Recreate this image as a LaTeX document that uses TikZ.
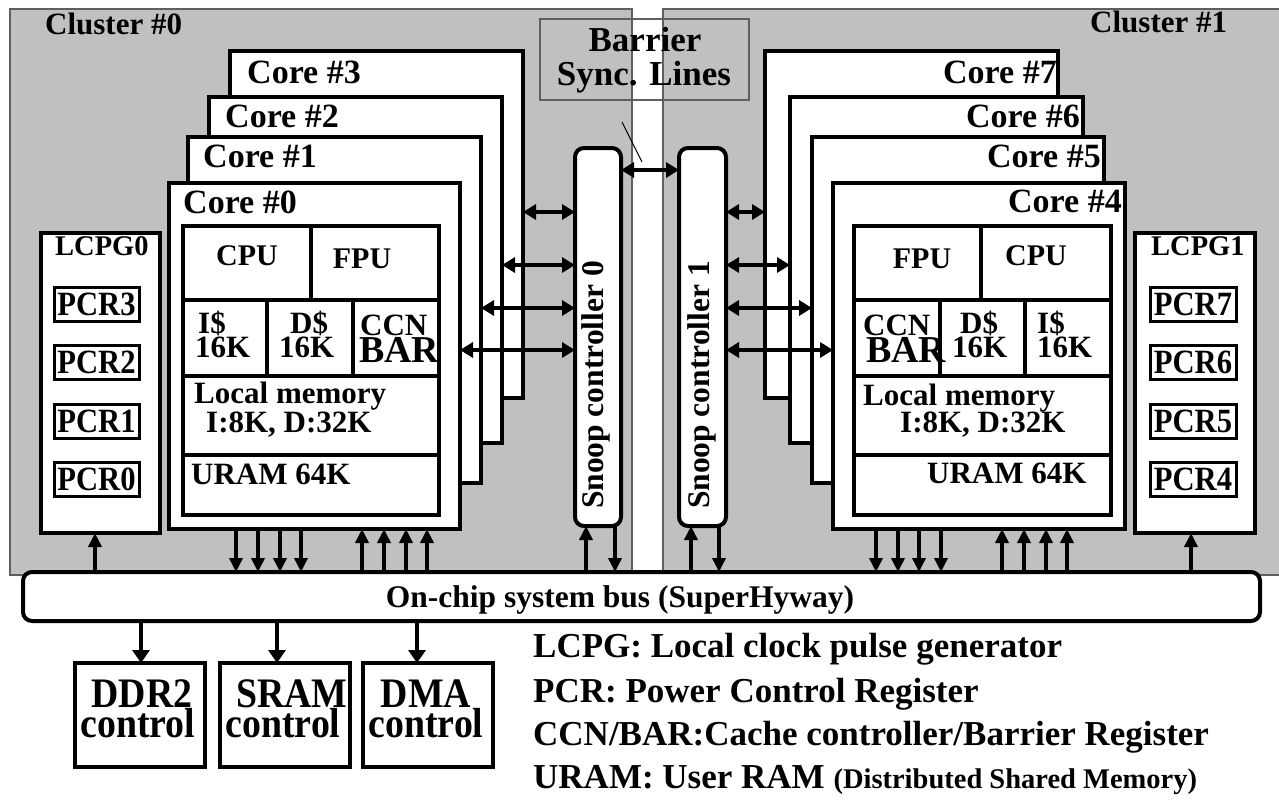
\documentclass[tikz,border=0pt]{standalone}
\usepackage{fontspec}
\setmainfont{Liberation Serif}
\newfontfamily\condserif[FakeStretch=0.9]{Liberation Serif}
\usetikzlibrary{arrows.meta}
\definecolor{clustergray}{RGB}{192,192,192}
\definecolor{rimgray}{RGB}{95,95,95}
\newcommand\setfs[1]{\fontsize{#1}{#1}\selectfont}
% rectangular block from its top-left (x1,y1) to its bottom-right (x2,y2)
\newcommand\blk[6][]{\node[#1, minimum width={(#5-#3)*1pt}, minimum height={(#6-#4)*1pt}] (#2) at (#3,#4) {};}
\tikzset{
  box/.style={draw, fill=white, anchor=north west, inner sep=0pt, outer sep=0pt},
  cluster/.style={box, fill=clustergray, draw=rimgray, line width=1.2pt},
  corebox/.style={box, line width=4.5pt},
  cell/.style={box, line width=3.2pt},
  lcpgbox/.style={box, line width=4pt},
  pcrbox/.style={box, line width=3pt},
  snoopbox/.style={box, line width=4pt, rounded corners=9pt},
  busbox/.style={box, line width=4pt, rounded corners=9pt},
  ctlbox/.style={box, line width=4pt},
  syncbox/.style={draw=rimgray, line width=1.2pt, anchor=north west, inner sep=0pt, outer sep=0pt},
  txt/.style={inner sep=0pt, anchor=base west, font=\bfseries\setfs{#1}},
  ctxt/.style={inner sep=0pt, anchor=base, font=\bfseries\setfs{#1}},
  rtxt/.style={inner sep=0pt, anchor=base east, font=\bfseries\setfs{#1}},
  cctxt/.style={inner sep=0pt, anchor=base, font=\condserif\bfseries\setfs{#1}},
  busarr/.style={line width=3.5pt, -{Triangle[length=14pt,width=13pt]}},
  outarr/.style={line width=3.5pt, -{Triangle[length=13pt,width=17pt]}},
  dblarr/.style={line width=3.5pt, {Triangle[length=13pt,width=15pt]}-{Triangle[length=13pt,width=15pt]}},
  tick/.style={line width=1pt, draw=black},
}
\begin{document}
\begin{tikzpicture}[x=1pt, y=-1pt]
\useasboundingbox (0,0) rectangle (1279,800);
\clip (0,0) rectangle (1279,800);

% ---- the two clusters and the barrier sync lines ----
\blk[cluster]{cluster0}{10}{9}{632}{575}
\blk[cluster]{cluster1}{663}{9}{1292}{575}
\blk[syncbox]{syncbox}{540}{19}{749}{100}
\node[ctxt=35] (synclbl1) at (645,52) {Barrier};
\node[ctxt=35] (synclbl2) at (644,85) {Sync. Lines};
\node[txt=31] (cl0lbl) at (45,35) {Cluster \#0};
\node[txt=31] (cl1lbl) at (1090,33) {Cluster \#1};

% ---- snoop controllers ----
\blk[snoopbox]{snoop0}{575}{148}{621}{526}
\blk[snoopbox]{snoop1}{679}{148}{726}{526}
\node[ctxt=31.5, rotate=90] (sn0lbl) at (603,385) {Snoop controller 0};
\node[ctxt=31.5, rotate=90] (sn1lbl) at (709,385) {Snoop controller 1};

% ---- cluster 0 cores, back to front ----
\blk[corebox]{core3}{230}{51}{523}{398}
\node[txt=34] (c3lbl) at (247,83) {Core \#3};
\blk[corebox]{core2}{209}{97}{502}{443}
\node[txt=34] (c2lbl) at (225,127) {Core \#2};
\blk[corebox]{core1}{188}{137}{481}{483}
\node[txt=34] (c1lbl) at (203,167) {Core \#1};
\blk[corebox]{core0}{169}{183}{460}{529}
\node[txt=34] (c0lbl) at (183,213) {Core \#0};

\blk[cell]{cpu0}{183}{226}{311}{300}
\blk[cell]{fpu0}{311}{226}{439}{300}
\blk[cell]{ic0}{183}{300}{267}{376}
\blk[cell]{dc0}{267}{300}{353}{376}
\blk[cell]{ccn0}{353}{300}{439}{376}
\blk[cell]{lm0}{183}{376}{439}{455}
\blk[cell]{uram0}{183}{455}{439}{515}
\node[ctxt=30] (cpu0lbl) at (247,265) {CPU};
\node[ctxt=30] (fpu0lbl) at (362,268) {FPU};
\node[txt=31] (ic0a) at (198,333) {I\$};
\node[txt=31] (ic0b) at (195,357) {16K};
\node[txt=31] (dc0a) at (290,333) {D\$};
\node[txt=31] (dc0b) at (279,357) {16K};
\node[txt=31] (ccn0a) at (360,335) {CCN};
\node[txt=38] (ccn0b) at (359,362) {BAR};
\node[txt=31] (lm0a) at (194,403) {Local memory};
\node[txt=31] (lm0b) at (206,432) {I:8K, D:32K};
\node[txt=31] (uram0lbl) at (191,484) {URAM 64K};

% ---- cluster 1 cores, back to front ----
\blk[corebox]{core7}{765}{51}{1058}{398}
\node[rtxt=34] (c7lbl) at (1057,83) {Core \#7};
\blk[corebox]{core6}{790}{97}{1083}{443}
\node[rtxt=34] (c6lbl) at (1080,127) {Core \#6};
\blk[corebox]{core5}{812}{137}{1104}{483}
\node[rtxt=34] (c5lbl) at (1101,167) {Core \#5};
\blk[corebox]{core4}{833}{183}{1125}{529}
\node[rtxt=34] (c4lbl) at (1122,212) {Core \#4};

\blk[cell]{fpu4}{854}{226}{981}{300}
\blk[cell]{cpu4}{981}{226}{1111}{300}
\blk[cell]{ccn4}{854}{300}{940}{376}
\blk[cell]{dc4}{940}{300}{1025}{376}
\blk[cell]{ic4}{1025}{300}{1111}{376}
\blk[cell]{lm4}{854}{376}{1111}{455}
\blk[cell]{uram4}{854}{455}{1111}{515}
\node[ctxt=30] (fpu4lbl) at (922,268) {FPU};
\node[ctxt=30] (cpu4lbl) at (1036,265) {CPU};
\node[txt=31] (ccn4a) at (863,335) {CCN};
\node[txt=38] (ccn4b) at (866,362) {BAR};
\node[txt=31] (dc4a) at (960,333) {D\$};
\node[txt=31] (dc4b) at (952,357) {16K};
\node[txt=31] (ic4a) at (1037,333) {I\$};
\node[txt=31] (ic4b) at (1037,357) {16K};
\node[txt=31] (lm4a) at (863,405) {Local memory};
\node[txt=31] (lm4b) at (900,432) {I:8K, D:32K};
\node[txt=31] (uram4lbl) at (927,483) {URAM 64K};

% ---- local clock pulse generators ----
\blk[lcpgbox]{lcpg0}{41}{233}{160}{533}
\node[txt=28.5] (lcpg0lbl) at (55,255) {LCPG0};
\blk[pcrbox]{pcr3}{54}{287}{139}{321}
\blk[pcrbox]{pcr2}{54}{345}{139}{379}
\blk[pcrbox]{pcr1}{54}{404}{139}{438}
\blk[pcrbox]{pcr0}{54}{462}{139}{496}
\foreach \p in {0,1,2,3}
  \node[cctxt=34] (pcr\p lbl) at ([yshift=6pt]pcr\p.south) {PCR\p};

\blk[lcpgbox]{lcpg1}{1135}{233}{1255}{533}
\node[txt=28.5] (lcpg1lbl) at (1151,255) {LCPG1};
\blk[pcrbox]{pcr7}{1150}{287}{1236}{321}
\blk[pcrbox]{pcr6}{1150}{345}{1236}{379}
\blk[pcrbox]{pcr5}{1150}{404}{1236}{438}
\blk[pcrbox]{pcr4}{1150}{462}{1236}{496}
\foreach \p in {4,5,6,7}
  \node[cctxt=34] (pcr\p lbl) at ([yshift=6pt]pcr\p.south) {PCR\p};

% ---- on-chip bus and external controllers ----
\blk[busbox]{bus}{23}{572}{1260}{621}
\node[ctxt=31.5] (buslbl) at (620,607) {On-chip system bus (SuperHyway)};

\blk[ctlbox]{ddr}{75}{663}{205}{767}
\blk[ctlbox]{sram}{220}{663}{350}{767}
\blk[ctlbox]{dma}{363}{663}{493}{767}
\node[cctxt=42] (ddra) at (142,707) {DDR2};
\node[cctxt=42] (ddrb) at (138,737) {control};
\node[cctxt=42] (srama) at (292,707) {SRAM};
\node[cctxt=42] (sramb) at (283,737) {control};
\node[cctxt=42] (dmaa) at (426,707) {DMA};
\node[cctxt=42] (dmab) at (426,737) {control};

\draw[outarr] (bus.south -| 141,0) -- (ddr.north -| 141,0);
\draw[outarr] (bus.south -| 277,0) -- (sram.north -| 277,0);
\draw[outarr] (bus.south -| 417,0) -- (dma.north -| 417,0);

% ---- bus connections of cluster 0 ----
\draw[busarr] (bus.north -| 95,0) -- (lcpg0.south -| 95,0);
\foreach \x in {236,258,280,301}
  \draw[busarr] (core0.south -| \x,0) -- (bus.north -| \x,0);
\foreach \x in {362,384,406,427}
  \draw[busarr] (bus.north -| \x,0) -- (core0.south -| \x,0);
\draw[busarr] (bus.north -| 586,0) -- (snoop0.south -| 586,0);
\draw[busarr] (snoop0.south -| 615,0) -- (bus.north -| 615,0);

% ---- bus connections of cluster 1 ----
\draw[busarr] (bus.north -| 691,0) -- (snoop1.south -| 691,0);
\draw[busarr] (snoop1.south -| 719,0) -- (bus.north -| 719,0);
\foreach \x in {876,898,919,941}
  \draw[busarr] (core4.south -| \x,0) -- (bus.north -| \x,0);
\foreach \x in {1002,1024,1046,1067}
  \draw[busarr] (bus.north -| \x,0) -- (core4.south -| \x,0);
\draw[busarr] (bus.north -| 1191,0) -- (lcpg1.south -| 1191,0);

% ---- snoop controllers to cores ----
\draw[dblarr] (core3.east |- 0,212) -- (snoop0.west |- 0,212);
\draw[dblarr] (core2.east |- 0,265) -- (snoop0.west |- 0,265);
\draw[dblarr] (core1.east |- 0,308) -- (snoop0.west |- 0,308);
\draw[dblarr] (core0.east |- 0,350) -- (snoop0.west |- 0,350);
\draw[dblarr] (snoop1.east |- 0,212) -- (core7.west |- 0,212);
\draw[dblarr] (snoop1.east |- 0,265) -- (core6.west |- 0,265);
\draw[dblarr] (snoop1.east |- 0,308) -- (core5.west |- 0,308);
\draw[dblarr] (snoop1.east |- 0,350) -- (core4.west |- 0,350);

% ---- barrier sync lines between the snoop controllers ----
\draw[dblarr] (snoop0.east |- 0,170) -- (snoop1.west |- 0,170);
\coordinate (tickA) at (622,122);
\coordinate (tickB) at (642,162);
\draw[tick] (tickA) -- (tickB);

% ---- legend ----
\node[txt=35] (lg1) at (533,657) {LCPG: Local clock pulse generator};
\node[txt=35] (lg2) at (533,702) {PCR: Power Control Register};
\node[txt=35] (lg3) at (533,745) {CCN/BAR:Cache controller/Barrier Register};
\node[txt=35] (lg4) at (533,788) {URAM: User RAM {\setfs{28.5}(Distributed Shared Memory)}};
\end{tikzpicture}
\end{document}
